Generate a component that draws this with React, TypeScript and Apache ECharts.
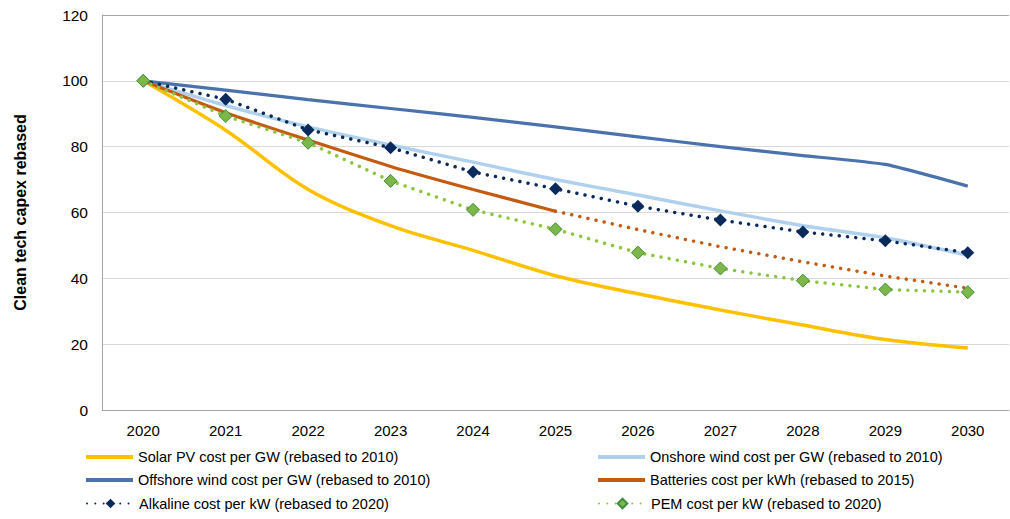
import React, { useEffect, useRef } from "react";
import * as echarts from "echarts";

const years = ["2020", "2021", "2022", "2023", "2024", "2025", "2026", "2027", "2028", "2029", "2030"];
const solar = [100, 85, 67, 56, 48.5, 40.8, 35.3, 30.4, 25.8, 21.4, 18.8];
const onshore = [100, 92.5, 86, 80.5, 75.3, 70, 65.3, 60.5, 56, 52.3, 47];
const offshore = [100, 97.2, 94.3, 91.6, 88.9, 86, 83, 80, 77.3, 74.6, 68];
const batteriesActual = [100, 90.3, 82, 74, 67, 60.4, null, null, null, null, null];
const batteriesForecast = [null, null, null, null, null, 60.4, 54.8, 49.6, 45, 40.7, 37];
const alkaline = [100, 94.4, 85.1, 79.7, 72.3, 67.2, 61.9, 57.7, 54.1, 51.4, 47.8];
const pem = [100, 89.3, 81.2, 69.6, 60.8, 54.9, 47.8, 43, 39.3, 36.6, 35.8];

const yTicks = [0, 20, 40, 60, 80, 100, 120];

const names = {
  solar: "Solar PV cost per GW (rebased to 2010)",
  onshore: "Onshore wind cost per GW (rebased to 2010)",
  offshore: "Offshore wind cost per GW (rebased to 2010)",
  batteries: "Batteries cost per kWh (rebased to 2015)",
  alkaline: "Alkaline cost per kW (rebased to 2020)",
  pem: "PEM cost per kW (rebased to 2020)",
};

const FONT = "Liberation Sans";
const dots = [0.01, 8.3];

export default function App() {
  const ref = useRef<HTMLDivElement>(null);
  useEffect(() => {
    if (!ref.current) return;
    const chart = echarts.init(ref.current, null, { renderer: "svg" });
    const textStyle = { fontFamily: FONT, fontSize: 14.5, color: "#000" };
    const solidLegend = (left: number, top: number, name: string) => ({
      orient: "horizontal",
      left,
      top,
      itemWidth: 47,
      itemHeight: 4,
      itemGap: 0,
      padding: 0,
      textStyle,
      data: [{ name, icon: "rect" }],
    });
    const markerLegend = (left: number, top: number, name: string) => ({
      orient: "horizontal",
      left,
      top,
      itemWidth: 47,
      itemHeight: 12,
      itemGap: 0,
      padding: 0,
      textStyle,
      data: [name],
    });
    chart.setOption({
      animation: false,
      textStyle: { fontFamily: FONT },
      grid: { left: 102, top: 15, right: 1, bottom: 109, containLabel: false },
      legend: [
        solidLegend(86, 449.5, names.solar),
        solidLegend(86, 472.5, names.offshore),
        markerLegend(86, 496, names.alkaline),
        solidLegend(598, 449.5, names.onshore),
        solidLegend(598, 472.5, names.batteries),
        markerLegend(598, 496, names.pem),
      ],
      xAxis: {
        type: "category",
        data: years,
        boundaryGap: true,
        axisLine: { lineStyle: { color: "#a6a6a6", width: 1 } },
        axisTick: { show: false },
        axisLabel: { color: "#000", fontSize: 15, fontFamily: FONT, margin: 13 },
      },
      yAxis: {
        type: "value",
        min: 0,
        max: 120,
        interval: 20,
        name: "Clean tech capex rebased",
        nameLocation: "middle",
        nameGap: 74,
        nameRotate: 90,
        nameTextStyle: { fontFamily: FONT, fontSize: 16, fontWeight: "bold", color: "#000" },
        axisLine: { show: true, lineStyle: { color: "#a6a6a6", width: 1 } },
        axisTick: { show: false },
        axisLabel: { color: "#000", fontSize: 15.5, fontFamily: FONT, margin: 14 },
        splitLine: {
          show: true,
          lineStyle: {
            color: yTicks.map((t) => (t === 120 ? "#a6a6a6" : "#d9d9d9")),
            width: 1,
          },
        },
      },
      series: [
        {
          name: names.solar,
          type: "line",
          data: solar,
          smooth: 0.35,
          symbol: "none",
          lineStyle: { color: "#FFC000", width: 3.5 },
          itemStyle: { color: "#FFC000" },
          z: 2,
        },
        {
          name: names.onshore,
          type: "line",
          data: onshore,
          smooth: 0.2,
          symbol: "none",
          lineStyle: { color: "#AFD1EE", width: 3.5 },
          itemStyle: { color: "#AFD1EE" },
          z: 2,
        },
        {
          name: names.offshore,
          type: "line",
          data: offshore,
          smooth: 0.15,
          symbol: "none",
          lineStyle: { color: "#4A72AD", width: 3.2 },
          itemStyle: { color: "#4A72AD" },
          z: 2,
        },
        {
          name: names.batteries,
          type: "line",
          data: batteriesActual,
          smooth: 0.2,
          symbol: "none",
          lineStyle: { color: "#C55A11", width: 3.2 },
          itemStyle: { color: "#C55A11" },
          z: 3,
        },
        {
          name: "Batteries forecast",
          type: "line",
          data: batteriesForecast,
          symbol: "none",
          lineStyle: { color: "#C55A11", width: 3.5, type: dots, cap: "round" },
          itemStyle: { color: "#C55A11" },
          z: 3,
        },
        {
          name: names.alkaline,
          type: "line",
          data: alkaline,
          symbol: "diamond",
          symbolSize: 13,
          showAllSymbol: true,
          lineStyle: { color: "#0B2A5C", width: 3.5, type: dots, cap: "round" },
          itemStyle: { color: "#0B2A5C", borderColor: "#0B2A5C", borderWidth: 0 },
          z: 4,
        },
        {
          name: names.pem,
          type: "line",
          data: pem,
          symbol: "diamond",
          symbolSize: 13,
          showAllSymbol: true,
          lineStyle: { color: "#8CC63F", width: 3.5, type: dots, cap: "round" },
          itemStyle: { color: "#7DB749", borderColor: "#3E8E3A", borderWidth: 1 },
          z: 5,
        },
      ],
    });
    return () => chart.dispose();
  }, []);
  return (
    <div
      ref={ref}
      style={{ position: "fixed", left: 0, top: 0, width: 1010, height: 519, background: "#fff" }}
    />
  );
}
